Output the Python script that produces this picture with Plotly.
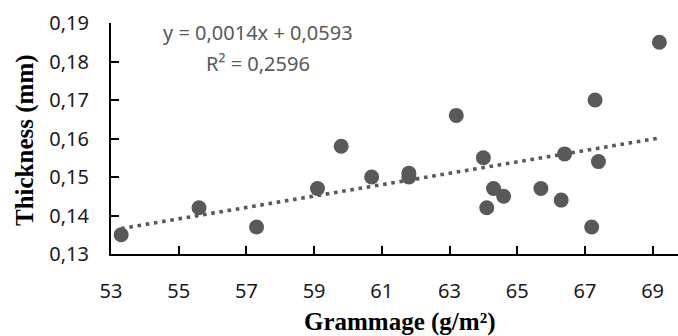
import numpy as np
import plotly.graph_objects as go

grammage = [53.3, 55.6, 57.3, 59.1, 59.8, 60.7, 61.8, 61.8, 63.2, 64.0, 64.1, 64.3, 64.6,
            65.7, 66.3, 66.4, 67.2, 67.3, 67.4, 69.2]
thickness = [0.135, 0.142, 0.137, 0.147, 0.158, 0.150, 0.151, 0.150, 0.166, 0.155, 0.142, 0.147, 0.145,
             0.147, 0.144, 0.156, 0.137, 0.170, 0.154, 0.185]
x_ticks = [53, 55, 57, 59, 61, 63, 65, 67, 69]
y_ticks = [0.13, 0.14, 0.15, 0.16, 0.17, 0.18, 0.19]
eq_text = "y = 0,0014x + 0,0593"
r2_text = "R² = 0,2596"
x_title = "<b>Grammage (g/m²)</b>"
y_title = "<b>Thickness (mm)</b>"

slope, intercept = np.polyfit(grammage, thickness, 1)
tx = np.array([min(grammage), max(grammage)])
ty = slope * tx + intercept

L, R, T, B = 111, 0, 23, 82
W, H = 678, 336

fig = go.Figure()
fig.add_trace(go.Scatter(x=tx, y=ty, mode="lines",
                         line=dict(color="#595959", width=3.6, dash="3.6px,4.7px"),
                         showlegend=False, hoverinfo="skip"))
fig.add_trace(go.Scatter(x=grammage, y=thickness, mode="markers",
                         marker=dict(color="#595959", size=15, line=dict(width=0)),
                         showlegend=False))

axis_font = dict(family="Noto Sans, Liberation Sans, Arial", size=20, color="#1a1a1a")
title_font = dict(family="Liberation Serif, Times New Roman", size=25, color="#000000")
eq_font = dict(family="Noto Sans, Liberation Sans, Arial", size=20, color="#595959")

def px_to_paper(px, py):
    return (px - L) / (W - L - R), 1 - (py - T) / (H - T - B)

fig.update_layout(
    width=W, height=H,
    margin=dict(l=L, r=R, t=T, b=B),
    paper_bgcolor="white", plot_bgcolor="white",
    separators=",.",
    xaxis=dict(range=[53, 69.75], tickvals=x_ticks, ticktext=[str(v) for v in x_ticks],
               showgrid=False, zeroline=False, showline=True, linecolor="black", linewidth=2,
               ticks="inside", ticklen=8, tickwidth=1.5, tickcolor="black",
               tickfont=axis_font, ticklabelstandoff=18),
    yaxis=dict(range=[0.13, 0.19], tickvals=y_ticks, tickformat=".2f",
               showgrid=False, zeroline=False, showline=True, linecolor="black", linewidth=2,
               ticks="inside", ticklen=8, tickwidth=1.5, tickcolor="black",
               tickfont=axis_font, ticklabelstandoff=16),
)

for txt, (cx, cy), ang, fnt in [
    (eq_text, (258, 33), 0, eq_font),
    (r2_text, (258, 63), 0, eq_font),
    (x_title, (399, 322), 0, title_font),
    (y_title, (25, 140), -90, title_font),
]:
    ax, ay = px_to_paper(cx, cy)
    fig.add_annotation(x=ax, y=ay, xref="paper", yref="paper", text=txt, showarrow=False,
                       xanchor="center", yanchor="middle", textangle=ang, font=fnt)

fig.write_html("out.html")
